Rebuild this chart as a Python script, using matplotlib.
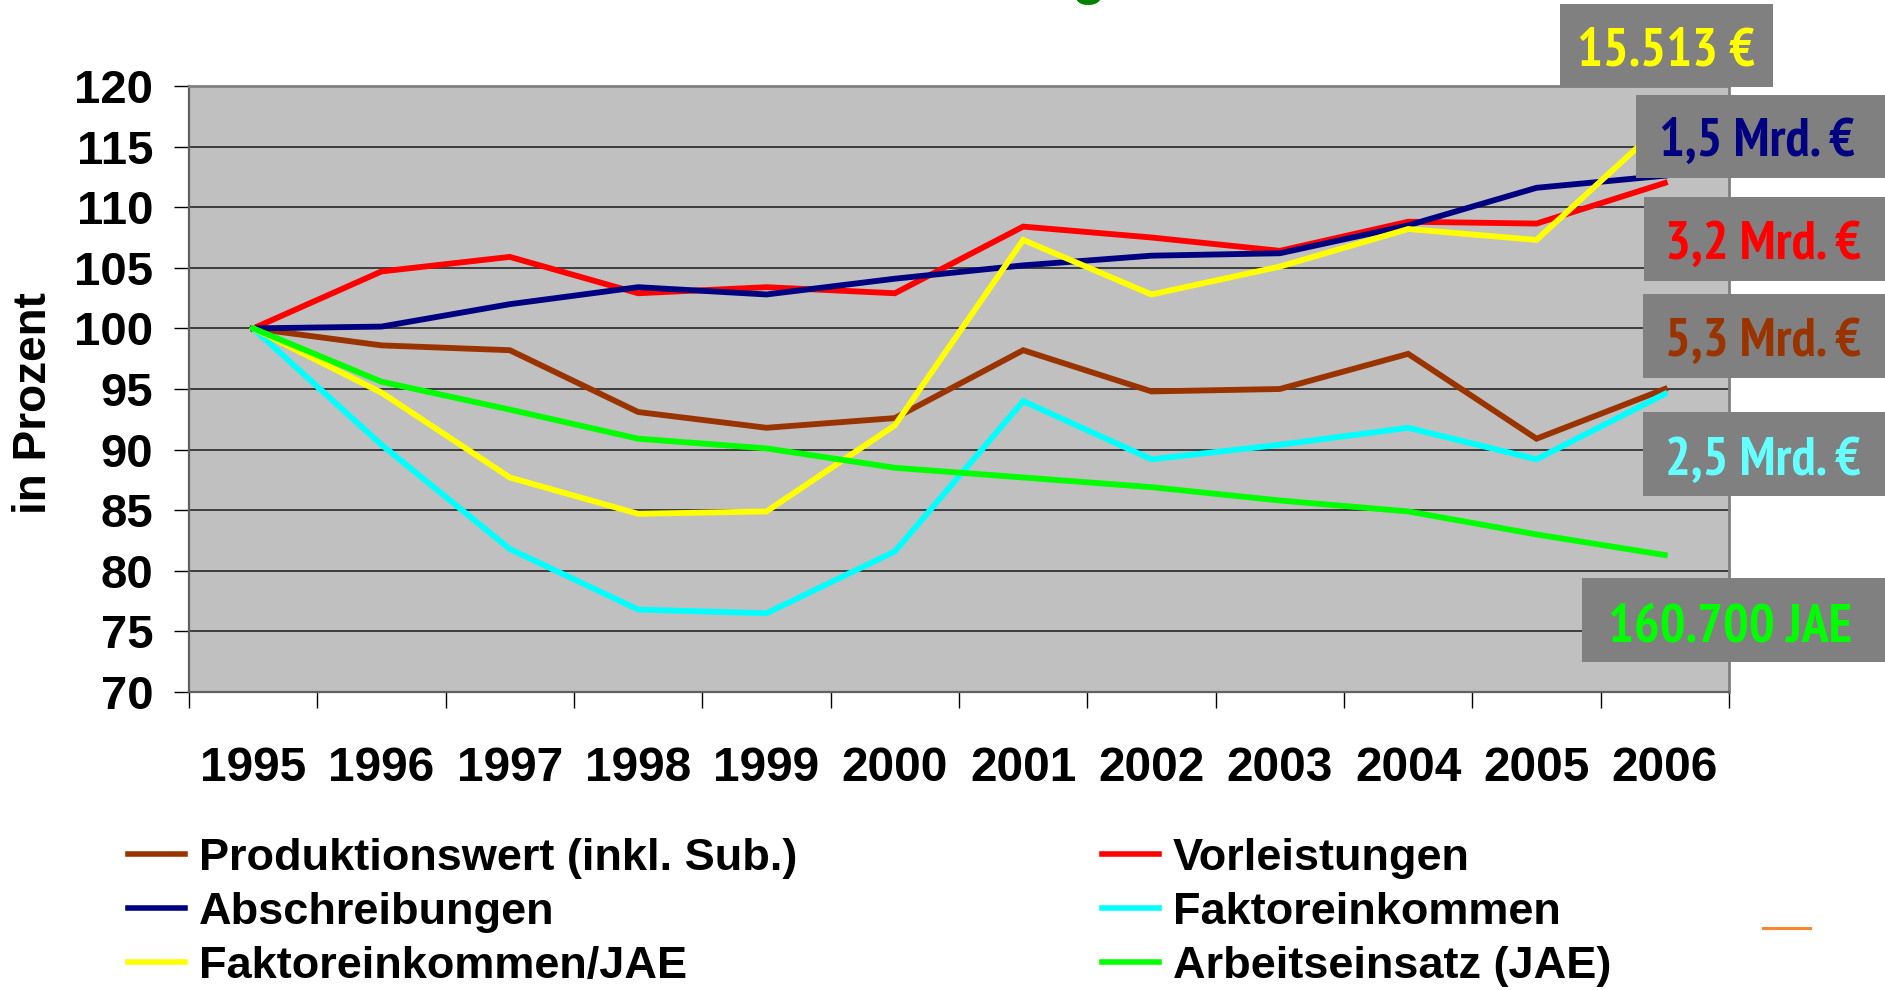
import matplotlib
matplotlib.use("Agg")
import matplotlib.pyplot as plt
from matplotlib.patches import Rectangle
from matplotlib.lines import Line2D

plt.rcParams['font.family'] = ['Liberation Sans', 'DejaVu Sans']
plt.rcParams['font.weight'] = 'bold'

years = ['1995', '1996', '1997', '1998', '1999', '2000',
         '2001', '2002', '2003', '2004', '2005', '2006']

produktionswert = [100, 98.6, 98.2, 93.1, 91.8, 92.6, 98.2, 94.8, 95.0, 97.9, 90.9, 95.0]
vorleistungen = [100, 104.7, 105.9, 102.9, 103.4, 102.9, 108.4, 107.5, 106.4, 108.8, 108.65, 112.0]
abschreibungen = [100, 100.15, 102.0, 103.4, 102.8, 104.1, 105.2, 106.0, 106.2, 108.5, 111.6, 112.6]
faktoreinkommen = [100, 90.4, 81.8, 76.8, 76.5, 81.6, 94.0, 89.2, 90.4, 91.8, 89.2, 94.6]
faktoreinkommen_jae = [100, 94.7, 87.7, 84.7, 84.9, 92.0, 107.3, 102.8, 105.1, 108.2, 107.3, 117.0]
arbeitseinsatz = [100, 95.6, 93.3, 90.9, 90.1, 88.5, 87.7, 86.9, 85.8, 84.9, 83.0, 81.3]

series_names = ['Produktionswert (inkl. Sub.)', 'Vorleistungen', 'Abschreibungen',
                'Faktoreinkommen', 'Faktoreinkommen/JAE', 'Arbeitseinsatz (JAE)']
series_values = [produktionswert, vorleistungen, abschreibungen,
                 faktoreinkommen, faktoreinkommen_jae, arbeitseinsatz]
series_colors = ['#993300', '#FF0000', '#000080', '#00FFFF', '#FFFF00', '#00FF00']

end_labels = ['5,3 Mrd. €', '3,2 Mrd. €', '1,5 Mrd. €', '2,5 Mrd. €', '15.513 €', '160.700 JAE']
end_label_colors = ['#993300', '#FF0000', '#000080', '#66FFFF', '#FFFF00', '#00FF00']

yticks = [70, 75, 80, 85, 90, 95, 100, 105, 110, 115, 120]

W, H = 1885, 990
def fx(x):
    return x / W
def fy(y):
    return 1 - y / H

fig = plt.figure(figsize=(W / 100, H / 100), dpi=100)
ax = fig.add_axes([fx(189), fy(692), fx(1729) - fx(189), fy(86) - fy(692)])
ax.set_facecolor('#C0C0C0')

x = list(range(len(years)))
for i, (name, vals, col) in enumerate(zip(series_names, series_values, series_colors)):
    ax.plot(x, vals, color=col, lw=4.2, label=name, zorder=3 + i,
            solid_joinstyle='miter')

ax.set_xlim(-0.5, len(years) - 0.5)
ax.set_ylim(70, 120)
ax.set_yticks(yticks)
ax.set_yticklabels([str(v) for v in yticks], fontsize=34, fontweight='bold')
ax.yaxis.grid(True, color='#1a1a1a', lw=1.1, zorder=1)
ax.set_axisbelow(True)
ax.tick_params(axis='y', length=10.8, width=1, color='black', pad=15, direction='out')

ax.set_xticks(x)
ax.set_xticklabels(years, fontsize=34.5, fontweight='bold')
ax.set_xticks([v - 0.5 for v in range(len(years) + 1)], minor=True)
ax.tick_params(axis='x', which='major', length=0, pad=39)
ax.tick_params(axis='x', which='minor', length=11.5, width=1, color='black', direction='out')

for s in ['left', 'bottom']:
    ax.spines[s].set_color('#606060')
    ax.spines[s].set_linewidth(1.6)
for s in ['top', 'right']:
    ax.spines[s].set_color('#808080')
    ax.spines[s].set_linewidth(2.0)

fig.text(fx(34), fy(403), 'in Prozent', rotation=90, ha='center', va='center',
         fontsize=33, fontweight='bold')

# legend (row-wise reading order -> column-first handles)
order = [0, 2, 4, 1, 3, 5]
handles = [Line2D([], [], color=series_colors[i], lw=4.0) for i in order]
labels = [series_names[i] for i in order]
fig.legend(handles, labels, ncol=2, loc='upper left',
           bbox_to_anchor=(fx(128), fy(838)), frameon=False,
           prop={'family': 'Liberation Sans', 'weight': 'bold', 'size': 32.5},
           handlelength=1.27, handletextpad=0.3, columnspacing=6.75,
           labelspacing=0.29, borderpad=0, borderaxespad=0)

# end-value boxes
boxes = [  # (x0, y0, x1, y1, text_cx, baseline)
    (1643, 294, 1885, 378, 1763, 356),
    (1644, 197, 1885, 281, 1763, 259),
    (1636, 95, 1885, 178, 1757, 156),
    (1643, 412, 1885, 496, 1763, 475),
    (1560, 4, 1773, 87, 1666, 65),
    (1582, 578, 1885, 662, 1730, 642),
]
narrow = ['PT Sans Narrow', 'Fira Sans Condensed', 'Liberation Sans']
for (x0, y0, x1, y1, cx, by), txt, col in zip(boxes, end_labels, end_label_colors):
    fig.patches.append(Rectangle((fx(x0), fy(y1)), fx(x1) - fx(x0), fy(y0) - fy(y1),
                                 transform=fig.transFigure, facecolor='#808080',
                                 edgecolor='none', zorder=10))
    fig.text(fx(cx), fy(by), txt, ha='center', va='baseline', color=col,
             fontsize=39, fontweight='bold', family=narrow, zorder=11)

# clipped title remnant at the very top
fig.text(fx(1089), fy(-7), 'g', ha='center', va='baseline', color='#008000',
         fontsize=40, fontweight='bold')

# small orange stroke bottom right
fig.add_artist(Line2D([fx(1763), fx(1810)], [fy(928), fy(928)], color='#F7882F', lw=2.2))

fig.savefig('out.png', dpi=100)
